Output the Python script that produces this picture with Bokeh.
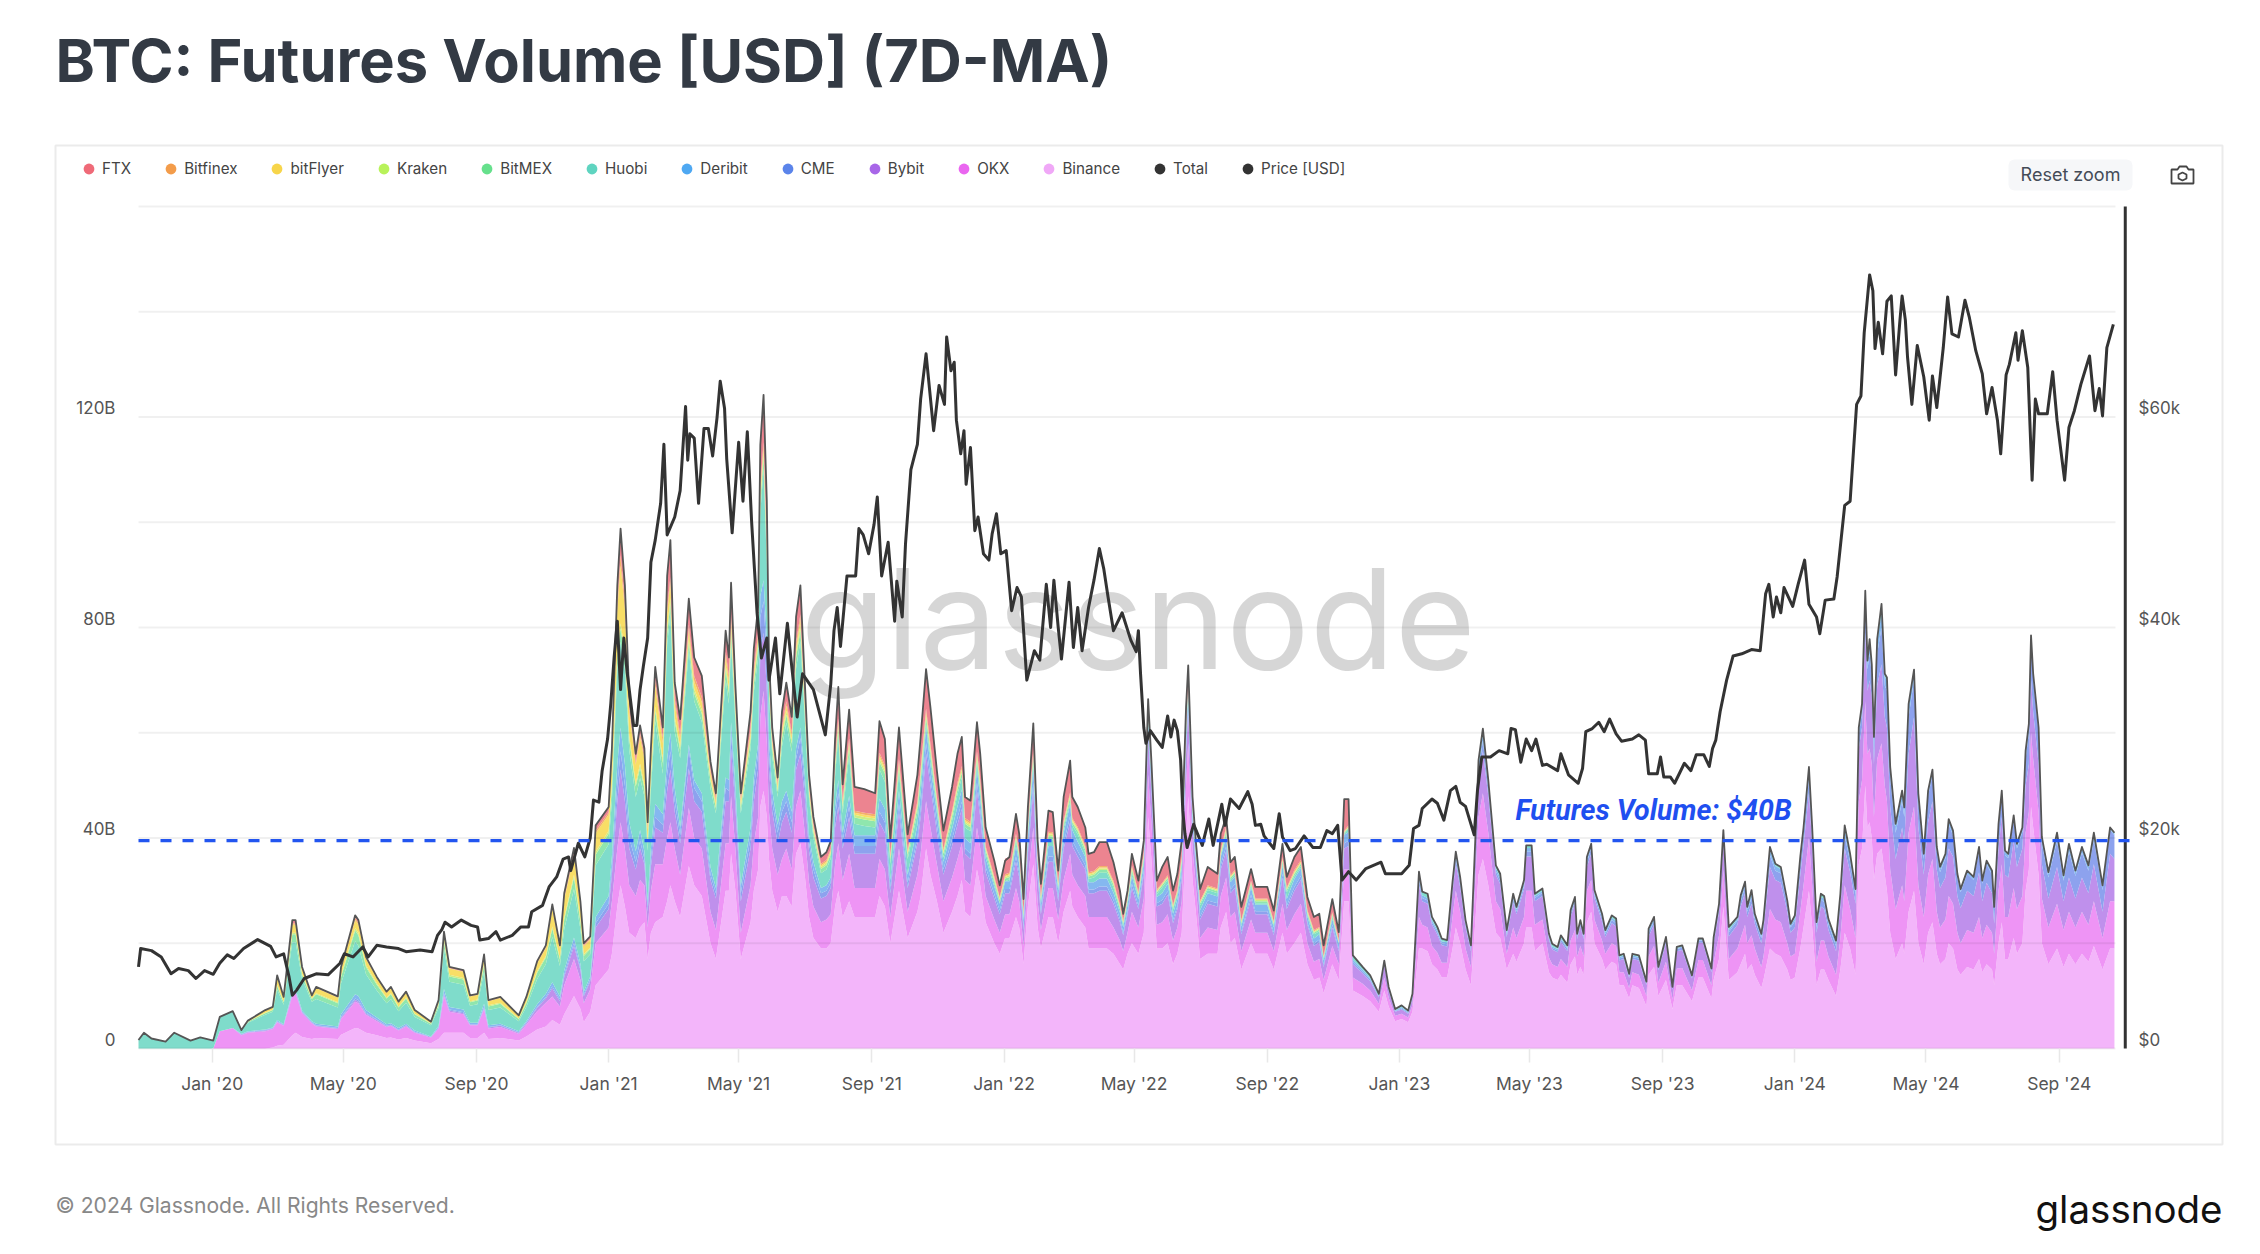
import pandas as pd
from bokeh.embed import file_html
from bokeh.resources import INLINE
from bokeh.plotting import figure
from bokeh.models import (ColumnDataSource, Range1d, LinearAxis, FixedTicker, Label, BoxAnnotation,
                          PolyAnnotation, Legend, LegendItem)

START = "2019-10-25"
vol_day = [
 0,5,12,25,33,48,57,69,75,87, 95,101,117,124,128,134,142,145,151,160,
 164,184,187,200,203,210,220,229,233,240, 247,255,270,277,282,287,300,306,313,319,
 323,334,351,358,368,376,382,389,393,402, 408,411,417,422,434,437,442,445,449,453,
 459,463,467,470,473,477,484,488,491,495, 500,508,513,520,528,533,542,545,547,551,
 556,565,568,572,574,577,580,582,585,590, 594,598,603,607,611,615,619,623,630,635,
 639,643,646,650,656,661,670,680,684,689, 694,702,710,719,722,727,731,737,743,751,
 756,760,763,768,774,777,782,790,795,800, 804,810,813,817,821,826,830,833,840,844,
 849,854,860,862,867,874,877,882,887,894, 900,906,909,913,917,923,928,932,935,940,
 945,950,955,959,963,967,969,973,976,980, 987,996,999,1004,1008,1012,1018,1027,1031,1042,
 1048,1056,1060,1067,1073,1079,1085,1090,1094,1102, 1108,1113,1117,1121,1130,1137,1145,1150,1154,1160,
 1166,1172,1176,1182,1185,1190,1194,1199,1203,1208, 1213,1216,1220,1225,1230,1237,1241,1246,1253,1257,
 1263,1269,1272,1279,1281,1286,1289,1296,1302,1305, 1310,1313,1319,1322,1326,1328,1331,1334,1337,1341,
 1344,1351,1354,1360,1364,1367,1371,1376,1379,1385, 1392,1394,1399,1403,1410,1416,1420,1425,1434,1440,
 1444,1452,1454,1459,1463,1468,1476,1479,1483,1485, 1489,1492,1498,1500,1506,1511,1516,1522,1525,1529,
 1534,1537,1542,1545,1549,1553,1556,1560,1567,1571, 1575,1580,1585,1588,1591,1594,1596,1598,1600,1602,
 1605,1609,1612,1614,1617,1622,1628,1630,1634,1639, 1643,1648,1652,1656,1660,1663,1668,1671,1675,1679,
 1682,1688,1694,1699,1702,1706,1711,1713,1717,1720, 1723,1726,1731,1734,1739,1742,1745,1747,1749,1754,
 1757,1763,1771,1777,1782,1788,1794,1800,1805,1813, 1820,1824]
total = [
 1.6,3,1.9,1.3,3,1.5,2.1,1.5,6,7.1, 3.5,5.3,7.3,7.9,13.9,9.8,24.4,24.4,15.5,10.1,
 11.7,9.9,15.5,25.3,24.4,17.4,13.6,10.8,11.7,8.9, 10.8,7.3,5.1,9.2,22.2,15.5,14.9,10.1,10.4,17.9,
 9.2,9.8,6.3,9.8,16.6,19.6,27.4,19.6,29.5,38.1, 27.8,20,21.3,42.4,45.9,57,88,98.8,88,67,
 56,61.4,57,43,57,72.5,61,89.8,96.6,69.5, 62.6,85.5,74.3,70.8,54.5,48.5,79.4,74.3,88.5,69,
 48.5,64,76,84,114.7,124.2,104,74.3,61,51.5, 64,69.5,63,82,88,70,52,44,36.4,37.3,
 39.4,58.8,68.7,50.2,64.4,49.7,49.3,48.5,62.2,58.8, 39.8,61,40.7,52,59.2,72.1,64.9,52.8,41.4,49.7,
 56,59.2,47.8,47.1,62,56,42,35.7,31,35.7, 36.4,44.6,40.8,28.4,45.9,61.8,39.5,31.3,45.2,44.9,
 33.8,47.8,54.7,47.8,45.9,42,37,37.3,39.2,39.2, 35.4,30,25.6,30,37,31.9,39.5,66.4,54.7,31.9,
 34.5,36.4,30,33.2,39.5,64.9,72.8,47.8,39.5,30.3, 34.5,33.2,40.8,44,35.4,36.4,26.9,34.1,30.7,30.7,
 26.2,38.9,32.6,36.4,38.3,28.8,25,25.6,19.6,28.4, 22.1,47.4,47.4,17.7,15.5,13.9,10.4,16.7,11.7,7.5,
 8.2,7.2,10.4,33.6,29.8,29.4,25,23.1,20.9,20.6, 31.7,37.4,32.6,24.4,19.6,54.8,60.8,51,34.8,33.2,
 22.5,29.4,26.9,32,38.6,38.6,29.4,30.4,21.8,19.9, 19.3,21.5,19.6,26.3,28.8,21.8,24.4,21.8,36.4,38.9,
 30.1,25.6,22.5,25.3,24.7,17.7,18,14.2,18,17.7, 12.7,22.8,25,15.5,21.2,11.7,19.3,19.6,13.9,20.9,
 20.9,15.2,21.1,27.5,41.5,23.1,25,29.1,31.7,26.9, 30.1,25.6,21.8,24.4,38.3,35.1,34.5,28.1,23.7,25.3,
 36.4,42,53.5,42,24,29.4,29,24.6,20.5,29.4, 42.4,37,30.3,61,65.5,87,73.7,77.8,73,59.2,
 77.8,84.5,71.2,70.5,53.5,42.7,49,45.8,65.5,72, 48.4,37,49,53,38.3,34.5,37,43.6,41.4,33.2,
 30.3,33.8,32.6,38.3,31.9,35.7,33.8,26.9,42.7,49, 37.6,37,44.3,38.9,42,56.6,61.7,78.5,71.2,61,
 40.2,33.5,41,32.9,38.9,33.8,38.3,34.8,41,31, 42,41]
binance = [
 0,0,0,0,0,0,0,0,0,0, 0,0,0,.2,.5,.7,2.5,3,2.2,1.8,
 2,1.8,2.6,3.9,3.8,3,2.5,2,2.1,1.7, 2,1.5,1,1.8,3,3,3,2,2,3,
 1.8,2,1.5,2.3,3.6,4.2,5.4,4.5,6.5,10, 7.5,5,7,12,15,18,27,31,27,22,
 21,23,24,17,22,24,25,28,31,28, 25,34.7,31,29,20,17,30,30,37,30,
 17,24,30,34,46,49,44,36,30,26, 29,29,27,37,39,33,25,21,19,19,
 20,27,30,25,28,25,25,25,29,27, 20,30,21,26,29,38,33,28,22,26,
 29,32,26,25,34,31,24,20,18,21, 21,25,23,16,27,35,23,19,25,25,
 20,26,30,27,25,23,19,19,19,19, 18,16,15,18,20,18,22,44,36,19,
 19,20,16,18,22,40,48,32,26,17, 18,18,23,26,20,21,15,20,18,18,
 15,22,18,20,22,16,13,13.5,10.5,16, 13,28,28,11,10,9,7,11,8,5.2,
 5.6,5,7,19,19,18.5,16,15,13.5,13.5, 19,23,20,15,12,33,36,31,22,21,
 15,18,16.5,20,23,23,18.5,20,14.5,13.5, 13,14,12.5,16,17.5,14,15.5,14,24,26,
 20,17,15,16.5,16,12,12,9.5,12,11.5, 8,14,15.5,10,13,7.5,12,12,9,13.5,
 13.5,9.5,13,17,27,13,14.5,16,18,15, 16,14,11.5,13,19,18,17.5,15,13,13.5,
 19,23,30,23,12,15,15,13,10,15, 22,19,14,35,38,50,42,43,40,32,
 37,38,33,30,22,17,20,18,26,30, 20,16,22,24,18,16,17,20,19,15,
 14,15.5,15,17,14.5,16,15,12,20,24, 17,17,21,18,20,30,34,46,42,33,
 20,16,19,15.5,18,16,18,16.5,19.5,15, 19,19]
okx = [
 0,0,0,0,0,0,0,0,3.3,3.9, 2.5,3,3.3,3.5,4.5,3.6,7.5,7.5,4.5,3,
 2.2,1.9,3,5,4.8,3.4,2.7,2.1,2.2,1.7, 2.2,1.5,1.1,2,7,4,3.5,2.4,2.4,4.5,
 2,2.1,1.3,2.2,3.5,4.5,4.5,3.5,5.5,7, 5.5,3.6,4.2,8,8,10,11,12,11,9,
 8,9,7,6,8,11,10,12,12,10, 8,11,9,9,6,5.5,9,9,11,8,
 5,7,9,10,17,19,14,9,8,7, 7,9,7,9,10,8,6.5,6,5,5.5,
 5.5,8,9,7,9,5.5,5.5,5.5,7,7, 5,8,5,7,8,9,9,7,6,6.5,
 7,7,6,6,8,7,5,4.5,4,4.5, 4.5,5.5,5,3.5,5,7,5,3.5,5.5,5.5,
 4.5,6,7,6,6,6,6,6,6,6, 5,4.5,3.5,4,6,5,6.5,8,7,4.5,
 5,5.5,4.5,5,6,10,10,6,5,4, 5,4.5,6,6.5,5,5,3.5,4.5,4,4,
 3.5,5.5,4.5,5.5,5.5,4,3.5,3.5,2.5,3.5, 3,6,6,2.5,2.3,2,1.5,2.5,1.7,1,
 1,.9,1.3,6,4.5,4.5,3.5,3.2,2.8,2.8, 6,7,6,4,3.5,11,12.5,10,6,5.5,
 3,5,4.5,5,7,7,5,4.5,2.8,2.5, 2.5,3,3,4.5,5,3.5,4,3.5,6,6,
 4.5,3.5,3,3.5,3.5,2.5,2.5,2,2.5,2.5, 2,3.5,4,2.5,3.5,1.8,3.2,3.3,2,3.3,
 3.3,2.5,3.3,4.5,7,4,4.5,5,5.5,5, 5.5,5,4,4.5,7.5,6.5,6.5,5,4.5,4.5,
 7,8,10,8,4.5,5.5,5.5,4.5,4,6, 9,7.5,7,12,13,16,14,14,14,12,
 18,20,17,17,12,9.5,11,10,15,16, 11,9,11,12,8,7,7.5,9,8.5,7,
 6,7,7,8,6.5,7.5,7,6,10,11, 8,8,9.5,8.5,9,11,11,14,13,12,
 8.5,7,8.5,7,8,7,8,7,8.5,6, 9,9]
bybit = [
 0,0,0,0,0,0,0,0,0,0, .1,.1,.1,.1,.1,.1,.2,.2,.2,.1,
 .1,.1,.2,.3,.3,.2,.2,.1,.1,.1, .1,.1,.1,.1,.3,.2,.2,.1,.1,.2,
 .2,.2,.2,.3,.6,.8,1.5,1,1.6,2.5, 1.8,1.3,1.6,3,3.5,5,9,10,9,7,
 5,6,4,3,4.5,7,6,9,10,7, 6,7.5,7,7,6,6,8,8,9,8,
 6,7,8,9,12,11,10,8,7,6, 7,7,7,7,7,7,6,5.5,4.5,4.5,
 5,7,7,6,7,6.5,6.5,6.5,7,7, 4.5,7,4.5,6,7,9,8,6,5,6,
 6.5,6.5,5,5,7,6,4.5,4,3.5,4, 4,5,4.5,3,5,7,4.5,3,5,5,
 3.5,6,6,5.5,5.5,5,4.5,4.5,5,5, 4.5,3.5,3,3.5,4.5,3.5,4.5,7,6,3.5,
 3.5,3.7,3.3,3.5,4,6,6,4,3.5,3.5, 4.5,4.5,5,5,4.5,4.5,3.2,4,3.5,3.5,
 3,5,4,4.5,4.5,3.5,3,3.2,2.5,3.5, 2.5,4,4.5,2.5,2,1.8,1.2,2.3,1.3,.8,
 .8,.7,1.2,6,4.5,4.5,4,3.4,3.3,3.1, 4.8,5,4.7,4,3,7,8,7,5,4.7,
 3.2,4.8,4.5,5.2,6.5,6.5,4.5,4.5,3.3,2.8, 2.8,3.3,3,4.5,5,3.3,3.8,3.3,4.5,5,
 4,3.7,3.2,3.8,3.7,2.2,2.5,1.9,2.5,2.7, 2,3.8,4,2.3,3.5,1.9,3.3,3.4,2.3,3.3,
 3.3,2.5,3.5,4.5,5,4.3,4.5,6,6,5, 6,4.7,4.5,5,8,7.5,7.5,6,4.5,5,
 7,7.5,8.5,7.5,5.5,6.5,6,5,4.5,6, 7,7,6.5,10,10,13,12,13,13,10,
 14,15,13,14,12,9.5,11,11,15,17, 11,8,10,11,8,7.5,8,9,9,7,
 6.7,7.5,7,8.5,7,8,7.5,5.7,8,9, 8,7.5,9,8,9,9,9,10,9,9,
 6.5,5.5,7,5.5,6.5,5.5,6.5,6,7,5, 9,8]
cme = [
 0,0,0,0,0,0,0,0,0,0, .1,.1,.1,.1,.1,.1,.2,.2,.1,.1,
 .1,.1,.2,.3,.3,.2,.1,.1,.1,.1, .1,.1,0,.1,.2,.2,.2,.1,.1,.2,
 .1,.1,.1,.1,.2,.3,.4,.3,.4,.6, .4,.3,.3,.8,1,1.5,3,3.5,3,2,
 1.5,1.5,1,1,1.5,2,1.5,3,3.5,2, 1.5,3.5,2.5,2,1,1,2.5,2,3,2,
 1.5,2,2.5,3,7,6,6,3,2,2, 2,2,2,2,3,2,1.5,1.5,1,1,
 1,2,2.5,1.5,2,1.5,1.5,1.5,2,2, 1,1.5,1,1,1.5,2,1.5,1.5,1,1.2,
 1.3,1.4,1,1,1.5,1.3,1,.8,.7,.8, .8,1,.9,.6,1,1.5,.9,.6,1,1,
 .7,1,1.2,1,1,.8,.7,.7,.8,.8, .7,.6,.5,.6,.8,.6,.8,1.3,1.1,.6,
 .7,.7,.6,.6,.8,1.2,1.3,.9,.7,.6, .6,.6,.8,.9,.7,.7,.5,.7,.6,.6,
 .5,.7,.6,.7,.8,.5,.4,.5,.4,.5, .4,1,1,.4,.3,.3,.2,.3,.2,.1,
 .2,.2,.3,1,.6,.6,.5,.5,.4,.4, .7,1,.8,.6,.4,1.7,2,1.4,.7,.7,
 .4,.6,.5,.7,.9,.9,.6,.6,.4,.3, .3,.4,.4,.6,.5,.4,.4,.4,.9,1,
 .7,.6,.5,.6,.6,.4,.4,.3,.4,.4, .3,.7,.6,.3,.5,.2,.4,.5,.3,.4,
 .4,.3,.6,.8,1.2,.8,.8,1,1.2,1, 1.2,1,1,1,2.2,1.8,1.8,1.2,1,1.2,
 2,2,2.8,2,1,1.3,1.3,1.1,1,1.3, 2.5,2,1.7,2.5,3,5,4,5,4,3.2,
 6,7,6,7,5.5,5,5,5,7,7, 5,3,5,5,3.5,3,3.7,4.5,4,3.4,
 3,3.2,3,4,3.3,3.5,3.5,2.8,3.7,4, 3.7,3.7,3.8,3.5,3.2,5,6,7,6,6,
 4,4,5,3.9,5,4.3,4.7,4.3,4.7,4.1, 4.5,4.5]
deribit = [
 0,0,0,0,0,0,0,0,0,0, .1,.1,.1,.1,.2,.1,.4,.4,.2,.2,
 .3,.3,.5,.8,.8,.5,.4,.3,.3,.3, .3,.2,.1,.3,.8,.5,.5,.3,.3,.6,
 .3,.3,.2,.3,.5,.6,.8,.6,.8,1, .8,.6,.6,1.2,1.5,2,4,4.5,4,3,
 2,2,1.5,1,2,2.5,2,3,3.5,2.5, 1.5,1,1.5,1.5,1.5,1,2,2,2,2,
 1.5,2,2,2,4,4,4,3,2,1.5, 2,2,2,2,2,2,1.5,1.5,1,1,
 1,2,2.5,1.5,2,2,2,2,2.5,2.5, 1.5,2.5,1.5,2.5,3,3,2.5,2.2,1.5,2,
 2.2,2.3,2,2,2.5,2.2,1.7,1.5,1.3,1.5, 1.5,2,1.7,1.2,2,3,1.7,1.3,2,2,
 1.3,2,2.2,2,1.8,1.6,1.4,1.4,1.5,1.5, 1.4,1.2,1,1.2,1.5,1.2,1.5,2,1.6,1.2,
 1.3,1.4,1.2,1.3,1.5,2,2.2,1.5,1.4,1.2, 1.4,1.3,1.6,1.8,1.4,1.4,1,1.4,1.2,1.2,
 1,1.6,1.3,1.5,1.5,1.1,1,1,.8,1.1, 1,1.6,1.6,.5,.4,.3,.2,.3,.2,.1,
 .3,.2,.3,1,.5,.5,.4,.4,.4,.4, .6,.9,.6,.4,.4,1.2,1.3,1,.6,.6,
 .4,.5,.4,.6,.7,.7,.4,.4,.3,.3, .3,.3,.3,.4,.4,.3,.4,.3,.7,.6,
 .5,.4,.4,.5,.4,.3,.3,.2,.3,.3, .2,.5,.6,.2,.4,.1,.2,.2,.1,.2,
 .2,.2,.3,.4,.8,.4,.4,.6,.6,.5, .8,.6,.5,.6,1,.9,.8,.6,.5,.5,
 1,1,1.2,1,.5,.5,.7,.6,.6,.7, 1.2,1,.7,1,1,2,1.3,2,1.5,1.5,
 2,3,1.7,2,1.5,1.2,1.5,1.4,2,1.5, 1,.7,1,1,.6,.7,.6,.9,.7,.6,
 .5,.5,.5,.7,.5,.6,.7,.3,.8,.8, .7,.6,.8,.7,.6,1.2,1.4,1.3,1,.8,
 1,.7,1.2,.3,1,.7,.8,.7,1,.6, .3,.3]
bitmex = [
 0,0,0,0,0,0,0,0,0,0, 0,.2,.3,.3,.7,.5,1.5,1.5,.8,.5,
 .9,.8,1.2,2,2,1.4,1.1,.9,.9,.7, .8,.5,.3,.6,1.3,1,1,.7,.7,1.2,
 .7,.7,.4,.7,1.2,1.3,1.6,1.2,1.8,2.2, 1.5,1,1,2,2,2.5,2.5,2.5,2.5,2,
 2,2,1.5,1.5,2,2,2,2,2,2, 1.5,1.5,1.5,1.5,1.5,1,2,2,2,1.5,
 1,1.5,1.5,2,2,2,2,1.5,1.5,1, 1.5,1.5,1.5,2,2,1.5,1,1,.8,.8,
 .8,1.5,1.5,1.2,1.5,1.2,1.2,1.2,1.5,1.5, .8,1.2,.8,1,1,1.2,1,.8,.7,.8,
 .9,.9,.7,.7,.9,.9,.6,.5,.5,.5, .5,.6,.5,.4,.6,.8,.5,.4,.6,.6,
 .4,.6,.7,.6,.6,.5,.5,.5,.5,.5, .5,.4,.3,.4,.5,.4,.5,.5,.4,.4,
 .4,.4,.4,.4,.5,.6,.6,.5,.4,.4, .4,.4,.5,.5,.4,.4,.3,.4,.4,.4,
 .3,.5,.4,.4,.4,.3,.3,.3,.2,.3, .2,.2,.2]
kraken = [
 0,0,0,0,0,0,0,0,0,0, 0,0,.1,.1,.2,.1,.3,.3,.2,.1,
 .2,.2,.3,.5,.5,.3,.3,.2,.2,.2, .2,.1,.1,.2,.4,.3,.3,.2,.2,.4,
 .2,.2,.1,.2,.3,.3,.4,.3,.4,.5, .4,.3,.3,.6,.6,.7,1,1,1,.8,
 .6,.7,.6,.4,.6,.8,.8,1,1,.8, .6,.8,.8,.7,.5,.5,.8,.8,1,.8,
 .5,.7,.8,.8,1,1,1,.7,.6,.5, .7,.8,.7,.9,1,.8,.6,.5,.4,.4,
 .4,.6,.7,.5,.7,.5,.5,.5,.7,.6, .3,.5,.3,.4,.5,.6,.5,.4,.3,.4,
 .5,.5,.4,.4,.5,.5,.3,.3,.2,.3, .3,.3,.3,.2,.3,.5,.3,.2,.3,.3,
 .2,.3,.4,.3,.3,.3,.3,.3,.3,.3, .3,.2,.2,.2,.3,.2,.3,.3,.2,.2,
 .2,.2,.2,.2,.3,.3,.3,.3,.2,.2, .2,.2,.3,.3,.2,.2,.2,.2,.2,.2,
 .2,.2,.2,.2,.2,.2,.2,.2,.1,.2, .1,.1,.1]
bitflyer = [
 0,0,0,0,0,0,0,0,0,0, 0,.2,.4,.4,1.5,.8,1.5,1.5,1,.5,
 1,.9,1.2,1.5,1.5,1.2,1,.9,1,.7, .9,.6,.3,.5,1,1.2,1.2,.9,.9,1.2,
 .8,.9,.5,.8,1.5,1.5,3.3,1.8,3.5,3.6, 2.5,1.5,1.5,3.5,3,4.5,8,11,8,4.5,
 3.5,5,5,2,3,4,3,3,3,2.5, 1.5,1.5,1.5,1.5,1,.8,1.5,1.5,1.5,1,
 .8,1,1,1,1,1,1,1,.8,.7, .8,1,.8,1,1,.8,.6,.5,.3,.3,
 .3,.5,.6,.4,.5,.4,.4,.4,.5,.5, .3,.5,.3,.4,.4,.5,.4,.3,.3,.3,
 .3,.3,.3,.3,.4,.3,.2,.2,.2,.2, .2,.2,.2,.2,.2,.3,.2,.2,.2,.2,
 .2,.2,.2,.2,.2,.2,.2,.2,.2,.2, .2,.1,.1,.1,.2,.1,.2,.2,.2,.1,
 .1,.1,.1,.1,.2,.2,.2,.1,.1,.1, .1,.1,.2,.2,.1,.1,.1,.1,.1,.1,
 .1,.2,.1,.2,.2,.1,.1,.1,.1,.1, .1,.1,.1]
bitfinex = [
 0,0,0,0,0,0,0,0,0,0, 0,0,.1,.1,.2,.1,.3,.3,.2,.1,
 .1,.1,.2,.4,.4,.2,.1,.1,.1,.1, .1,.1,0,.1,.2,.1,.1,.1,.1,.2,
 .1,.1,.1,.1,.2,.2,.3,.2,.4,.5, .3,.2,.2,.5,.5,.7,1.5,2,1.5,1,
 .7,.8,.7,.5,.8,1,1,1,1,1, .8,1,1,1,.6,.5,1,1,1,.8,
 .5,.8,1,1,1,1,1,.8,.6,.5, .6,.8,.6,.9,1,.7,.5,.4,.3,.3,
 .3,.5,.6,.4,.5,.4,.4,.4,.5,.5, .3,.5,.3,.5,.5,.6,.5,.4,.3,.4,
 .5,.5,.4,.4,.5,.5,.3,.3,.2,.3, .3,.3,.3,.2,.3,.5,.3,.2,.3,.3,
 .2,.3,.4,.3,.3,.3,.3,.3,.3,.3, .3,.2,.2,.2,.3,.2,.3,.3,.2,.2,
 .2,.2,.2,.2,.3,.3,.3,.3,.2,.2, .2,.2,.3,.3,.2,.2,.2,.2,.2,.2,
 .2,.3,.2,.3,.3,.2,.2,.2,.1,.2, .2,.2,.2]
ftx = [
 0,0,0,0,0,0,0,0,0,0, 0,0,0,0,.1,0,.6,.6,.1,0,
 .1,.1,.2,.5,.5,.2,.1,.1,.1,.1, .1,0,0,.1,.3,.2,.2,.1,.1,.3,
 .1,.1,0,.1,.2,.3,.6,.4,.7,1, .6,.4,.4,1,1,1.5,3,5,3,2,
 1.4,1.5,1.3,1,1.5,2.5,2,6,7,3, 3,5,3.5,4,1.5,1,4,3.5,6,3,
 1,3,4,5,8,9,7,3,2,1, 3,3.5,3,5,5.5,3.5,2,1.5,1.3,1.5,
 1.5,4,6,3,5.5,4.5,4.5,4,6,5, 3,6,3,5,6,7.5,7,5,3.5,4.5,
 5.5,5.5,4,4,5.5,5,3.5,3,2.2,3, 3,3.8,3.5,2.5,3.5,5,2.8,2.3,4,3.8,
 2.3,4.5,6,4,3.8,3.5,3.5,3.5,4.5,4.5, 3.5,2.7,1.3,1.2,2.2,2.2,2.2,2,1.5,1.7,
 3,3.5,2.7,3,3,3.5,3,1.5,1,2.2, 3.5,2.8,3.2,1.8,2.5,2.5,2.5,2.2,2.2,2.2,
 2,2.5,2,2.5,2.5,2.5,2.5,2.5,2,2.5, 1.5,6,5]

price_day = [
 0,2,12,21,30,37,46,53,61,69, 75,82,88,97,110,122,127,134,139,142,
 146,153,164,175,186,190,198,207,212,220, 229,240,247,260,271,276,280,283,289,298,
 307,313,315,323,330,334,345,353,360,363, 373,379,386,392,397,399,406,412,417,420,
 425,428,433,436,439,442,445,448,451,457, 460,463,466,470,473,477,482,485,488,495,
 500,505,507,509,513,517,522,526,530,534, 537,541,543,548,554,558,562,566,571,575,
 580,582,588,592,599,603,608,613,623,634, 639,642,645,648,654,662,665,669,674,679,
 682,686,692,698,700,705,708,713,719,722, 727,734,739,744,746,750,753,755,759,762,
 764,768,772,775,780,785,788,792,796,801, 806,811,815,820,827,832,838,842,845,849,
 852,859,863,867,871,877,882,887,891,895, 900,908,916,921,923,925,928,930,934,940,
 945,950,953,956,959,962,964,966,968,974, 982,988,992,1000,1003,1008,1016,1024,1028,1031,
 1036,1039,1048,1053,1056,1063,1068,1076,1084,1091, 1097,1102,1107,1111,1117,1124,1133,1147,1151,1166,
 1173,1177,1182,1185,1194,1199,1205,1211,1216,1220, 1225,1233,1236,1240,1248,1256,1264,1267,1271,1276,
 1281,1286,1290,1296,1300,1310,1313,1320,1329,1333, 1336,1342,1348,1353,1358,1364,1369,1379,1385,1391,
 1394,1402,1405,1408,1414,1418,1427,1433,1438,1445, 1450,1453,1456,1460,1466,1472,1480,1489,1497,1502,
 1505,1509,1512,1516,1519,1527,1532,1538,1542,1549, 1552,1557,1565,1568,1575,1580,1586,1590,1593,1598,
 1601,1603,1606,1610,1614,1618,1622,1626,1628,1631, 1633,1637,1642,1648,1653,1656,1660,1666,1670,1674,
 1680,1686,1690,1696,1702,1706,1711,1716,1719,1724, 1727,1733,1735,1739,1744,1748,1751,1754,1762,1767,
 1771,1778,1782,1787,1793,1801,1806,1810,1813,1817, 1823]
price = [
 7.75,9.5,9.3,8.7,7.1,7.6,7.4,6.65,7.4,7.05, 8.1,8.9,8.55,9.5,10.35,9.7,8.7,9,6.8,5.05,
 5.55,6.65,7.1,7,8.1,9,8.7,9.65,8.7,9.8, 9.65,9.5,9.2,9.35,9.2,10.75,11.3,12,11.55,12.2,
 11.7,11.55,10.3,10.45,11.1,10.3,10.75,11.55,11.55,13, 13.6,15.35,16.3,18,18.2,16.9,19.5,18.2,20,23.6,
 23.4,26.4,29.4,32.8,37.1,40.6,34.1,39,35.8,30.7, 30.7,34.1,36.3,39,46.2,48.3,51.8,57.4,48.8,50.5,
 53,61,55.9,58.4,58,51.8,58.9,58.9,56.3,59.9, 63.4,60.8,56,49,57.6,52,58.6,50,41.4,37.1,
 39,35,39,33.7,40.4,36.3,31.5,35.6,34.1,29.8, 34.6,39.7,41.9,38.2,44.9,44.9,49.4,48.8,47,49.8,
 52.4,44.9,48.1,40.6,44.4,41,47.9,55,57.4,61.7, 66,58.7,63,61.2,67.6,64.4,65.2,59.7,56.5,58.7,
 53.6,57.1,49.2,50.5,47,46.4,48.9,50.8,47,47.3, 41.6,43.8,42.9,35,37.8,36.9,44.1,40,44.5,40,
 37,44.3,38.1,41.9,37.8,41.9,44.5,47.5,45.6,42.9, 39.7,41.4,38.8,37.7,39.7,35.6,30.5,29,30.2,29.3,
 28.6,31.6,29.6,31.2,30.2,27.4,22.6,20.4,19.1,21.3, 19.3,21.8,19.3,23.2,21.2,23.7,22.8,24.4,23.2,21.2,
 21.3,20.2,19,22.3,20.1,18.8,19,20.2,19.1,19.1, 20.7,20.4,21.2,16,16.8,16,17.1,17.7,16.6,16.6,
 17.4,20.9,21.2,22.8,23.7,23.3,21.7,24.5,24.9,23.4, 23,20.3,24.5,27.7,27.7,28.3,28,30.4,30.3,27.2,
 29.4,28.3,29.4,26.9,27,26.4,28,26,25.2,26.6, 30.1,30.4,31,30.1,31.3,29.9,29.2,29.4,29.8,29.3,
 26.1,26.1,27.7,25.8,25.8,25.2,27.1,26.4,27.9,27.9, 26.8,28.5,29.3,32,35,37.3,37.5,37.9,37.8,43.2,
 44.1,41,42.9,41.4,43.8,42,44.1,46.4,42.2,41, 39.4,42.6,42.7,44.8,51.6,52,61.2,62,68,73.5,
 72,66.5,69,66,71,71.5,64,69.2,71.5,69.2, 65.7,61.2,66.8,63.8,59.7,63.9,60.9,66.6,71.4,67.9,
 67.6,71.1,69.5,66.3,64.1,60.3,62.8,59.7,56.5,64, 65,68,65.4,68.2,64.7,54,61.7,60.3,60.3,64.3,
 59.7,54,59,60.6,63.1,65.8,60.6,62.7,60.1,66.6, 68.8]

tick_dates = ["2020-01-01","2020-05-01","2020-09-01","2021-01-01","2021-05-01","2021-09-01","2022-01-01",
              "2022-05-01","2022-09-01","2023-01-01","2023-05-01","2023-09-01","2024-01-01","2024-05-01","2024-09-01"]
tick_labels = ["Jan '20","May '20","Sep '20","Jan '21","May '21","Sep '21","Jan '22","May '22","Sep '22",
               "Jan '23","May '23","Sep '23","Jan '24","May '24","Sep '24"]
vol_ticks = [0, 40, 80, 120]
vol_labels = ["0", "40B", "80B", "120B"]
price_ticks = [0, 20, 40, 60]
price_labels = ["$0", "$20k", "$40k", "$60k"]
grid_values = [0, 20, 40, 60, 80, 100, 120, 140, 160]
threshold_value = 39.5

stack_names = ["Binance","OKX","Bybit","CME","Deribit","Huobi","BitMEX","Kraken","bitFlyer","Bitfinex","FTX"]
fill_colors = ["#F3B5FA","#EE94F5","#BF90EC","#8DA2EE","#85B8F0","#7FDCCB","#8FE6AE","#CBEE85","#F8DE66","#F4B06A","#EC8490"]
legend_names = ["FTX","Bitfinex","bitFlyer","Kraken","BitMEX","Huobi","Deribit","CME","Bybit","OKX","Binance","Total","Price [USD]"]
legend_colors = ["#EF6A78","#F39C4A","#F7D54A","#B8F25A","#66E08C","#5FD4C0","#4EA8F2","#5B84EA","#A866E8","#EA66F0","#F0A8F7","#333333","#333333"]

# ---- derived
t0 = pd.Timestamp(START)
def ms(day):
    return (t0 + pd.Timedelta(days=float(day))).value / 1e6
n = len(total)
def pad(a):
    return list(a) + [0] * (n - len(a))
small = {"FTX": pad(ftx), "Bitfinex": pad(bitfinex), "bitFlyer": pad(bitflyer), "Kraken": pad(kraken), "BitMEX": pad(bitmex)}
low = {"Binance": binance, "OKX": okx, "Bybit": bybit, "CME": cme, "Deribit": deribit}
data = {k: list(v) for k, v in {**low, **small}.items()}
data["Huobi"] = [max(total[i] - sum(v[i] for v in data.values()), 0) for i in range(n)]
data["x"] = [ms(d) for d in vol_day]
data["total"] = total
src = ColumnDataSource(data)

# The frame fills the page, so card, title, legend and footer stay inside it.
W, H = 2256, 1250
PX_LEFT, PX_RIGHT, PX_TOP, PX_BOT = 138, 2138, 206, 1048
PX_PER_DAY = 1.0833
PX_PER_B = (PX_BOT - PX_TOP) / 160
day_at = lambda px: (px - PX_LEFT) / PX_PER_DAY
b_at = lambda py: (PX_BOT - py) / PX_PER_B
x_end_day = day_at(PX_RIGHT)

p = figure(width=W, height=H, output_backend="svg", toolbar_location=None,
           x_range=Range1d(ms(day_at(0)), ms(day_at(W))), y_range=Range1d(b_at(H), b_at(0)),
           min_border=0, min_border_left=0, min_border_right=0, min_border_top=0, min_border_bottom=0,
           outline_line_color=None, background_fill_color="white", border_fill_color="white",
           y_axis_location=None, x_axis_location=None)
p.grid.visible = False

def tx(text, x, y, size, color, font="Inter", style="normal", align="left", baseline="alphabetic", alpha=1.0, level="annotation", lift=0.36):
    dy = lift * size if baseline == "alphabetic" else 0
    lab = Label(x=x, y=H - y + dy, x_units="screen", y_units="screen", text=text,
                text_font=font, text_font_size=f"{size}px", text_color=color, text_font_style=style,
                text_align=align, text_baseline=baseline, text_alpha=alpha, level=level)
    p.add_layout(lab)
    return lab

def box(l, r, t, b, **kw):
    p.add_layout(BoxAnnotation(left=l, right=r, top=H - t, bottom=H - b,
                               left_units="screen", right_units="screen", top_units="screen", bottom_units="screen", **kw))

box(55, 2222, 145, 1144, fill_alpha=0, line_color="#EBEBEB", line_alpha=1, line_width=2, level="underlay")
tx("glassnode", 800, 668, 139, "#000000", alpha=0.16, level="underlay")

p.varea_stack(stackers=stack_names, x="x", source=src, color=fill_colors)
p.line(x="x", y="total", source=src, line_color="#555555", line_width=1.8, line_join="round")

grid_end = ms(1825)
p.segment(x0=[ms(0)] * len(grid_values), x1=[grid_end] * len(grid_values), y0=grid_values, y1=grid_values,
          line_color="#000000", line_alpha=0.06, line_width=2)

y0, y1 = b_at(H), b_at(0)
p.extra_y_ranges = {"price": Range1d(y0 / 2, y1 / 2),
                    "vol_lab": Range1d(y0 - 1.7, y1 - 1.7),
                    "price_lab": Range1d(y0 / 2 - 0.85, y1 / 2 - 0.85)}
p.line(x=[ms(d) for d in price_day], y=price, y_range_name="price", line_color="#333333", line_width=3, line_join="round")

def y_axis(rng, ticks, labels, loc, standoff, side):
    a = LinearAxis(y_range_name=rng, ticker=FixedTicker(ticks=ticks), fixed_location=loc,
                   major_label_overrides=dict(zip(ticks, labels)),
                   major_tick_line_color=None, minor_tick_line_color=None, axis_line_color=None,
                   major_label_standoff=standoff, major_label_text_font="Inter", major_label_text_font_size="17px",
                   major_label_text_color="#555555")
    p.add_layout(a, side)

y_axis("vol_lab", vol_ticks, vol_labels, ms(0), 17, "left")
y_axis("price_lab", price_ticks, price_labels, ms(day_at(2131)), 1, "right")

tick_ms = [pd.Timestamp(d).value / 1e6 for d in tick_dates]
xa = LinearAxis(ticker=FixedTicker(ticks=tick_ms), fixed_location=0,
                major_label_overrides=dict(zip(tick_ms, tick_labels)),
                axis_line_color=None, minor_tick_line_color=None, major_tick_line_color="#E8E8E8",
                major_tick_line_width=1.5, major_tick_in=0, major_tick_out=14, major_label_standoff=10,
                major_label_text_font="Inter", major_label_text_font_size="17.5px", major_label_text_color="#555555")
p.add_layout(xa, "below")

p.segment(x0=[ms(1834)], x1=[ms(1834)], y0=[0], y1=[160], line_color="#333333", line_width=3)
p.line(x=[ms(0), ms(x_end_day)], y=[threshold_value, threshold_value], line_color="#2255F0", line_width=3.4,
       line_dash=[11, 11])

items = []
for nm, col in zip(legend_names, legend_colors):
    r = p.scatter(x=[ms(-500)], y=[-100], size=11, marker="circle", fill_color=col, line_color=None)
    items.append(LegendItem(label=nm, renderers=[r]))
legend = Legend(items=items, orientation="horizontal", location=(75, H - 182),
                border_line_color=None, background_fill_alpha=0, padding=0, margin=0,
                spacing=26, glyph_width=27, glyph_height=27, label_standoff=0,
                label_text_font="Inter", label_text_font_size="15.2px", label_text_color="#444444")
p.add_layout(legend, "center")

tx("BTC: Futures Volume [USD] (7D-MA)", 55, 81, 59.6, "#333A44", style="bold")
tx("Futures Volume: $40B", 1515, 820, 28.5, "#1F4FF0", font="Roboto", style="bold italic")
tx("© 2024 Glassnode. All Rights Reserved.", 55, 1213, 21.1, "#888888")
tx("glassnode", 2035, 1222, 38.5, "#111111")

box(2008, 2132, 159, 190, fill_color="#F6F7F9", fill_alpha=1, line_color=None, border_radius=6)
tx("Reset zoom", 2070, 174, 18, "#444B57", align="center", baseline="middle")

def poly(xs, ys):
    p.add_layout(PolyAnnotation(xs=xs, ys=[H - y for y in ys], xs_units="screen", ys_units="screen",
                                fill_alpha=0, line_color="#444444", line_alpha=1, line_width=1.8))
poly([2171, 2177, 2179, 2186, 2188, 2193, 2193, 2171], [169, 169, 166, 166, 169, 169, 183, 183])
poly([2182, 2186, 2186, 2182, 2178, 2178], [172, 174, 178, 180, 178, 174])

open("out.html", "w").write(file_html(p, INLINE))
